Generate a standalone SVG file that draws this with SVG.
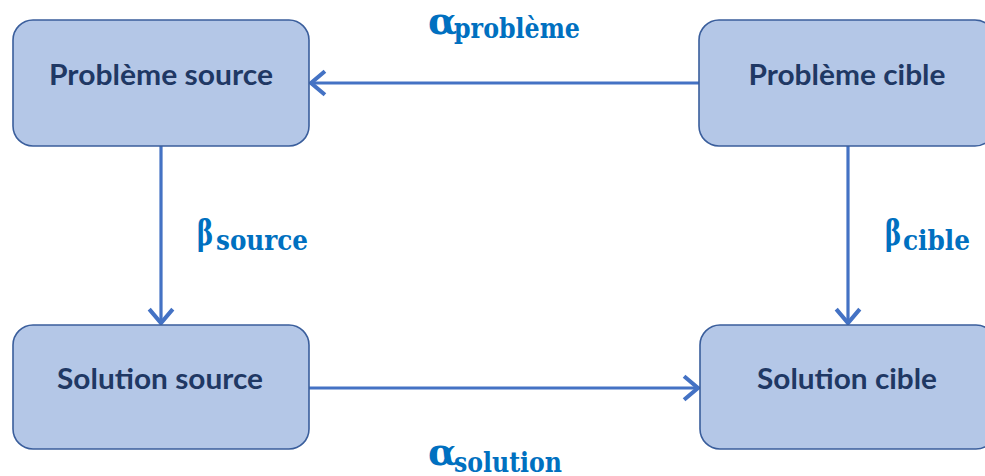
<svg xmlns="http://www.w3.org/2000/svg" width="985" height="476" viewBox="0 0 985 476">
<defs>
<style>
.box{fill:#B4C7E7;stroke:#3A5E9C;stroke-width:1.6}
.lbl{font-family:Lato,"Open Sans","Liberation Sans",sans-serif;font-weight:bold;font-size:28px;fill:#1F3864;text-anchor:middle}
.edge{stroke:#4472C4;stroke-width:3.2;fill:none}
.math{font-family:"DejaVu Serif","Liberation Serif",serif;font-weight:bold;fill:#0070C0}
.g{font-size:38px}
.b{font-size:35px}
.s{font-size:27px}
</style>
<marker id="ah" markerUnits="userSpaceOnUse" markerWidth="30" markerHeight="30" viewBox="-16 -14 20 28" refX="0" refY="0" orient="auto">
<path d="M-13,-11 L0,0 L-13,11" fill="none" stroke="#4472C4" stroke-width="3.8" stroke-linejoin="miter"/>
</marker>
</defs>
<rect width="985" height="476" fill="#FFFFFF"/>
<g id="connectors">
<line class="edge" x1="699" y1="83" x2="311" y2="83" marker-end="url(#ah)"/>
<line class="edge" x1="161" y1="146" x2="161" y2="323" marker-end="url(#ah)"/>
<line class="edge" x1="848" y1="146" x2="848" y2="323" marker-end="url(#ah)"/>
<line class="edge" x1="309" y1="388" x2="698" y2="388" marker-end="url(#ah)"/>
</g>
<g id="n-probleme-source">
<rect class="box" x="13" y="20" width="296" height="126" rx="20"/>
<text class="lbl" x="161" y="85" textLength="224" lengthAdjust="spacingAndGlyphs">Problème source</text>
</g>
<g id="n-probleme-cible">
<rect class="box" x="699" y="20" width="296" height="126" rx="20"/>
<text class="lbl" x="847" y="85" textLength="197" lengthAdjust="spacingAndGlyphs">Problème cible</text>
</g>
<g id="n-solution-source">
<rect class="box" x="13" y="325" width="296" height="124" rx="20"/>
<text class="lbl" x="160" y="389" textLength="206" lengthAdjust="spacingAndGlyphs">Solution source</text>
</g>
<g id="n-solution-cible">
<rect class="box" x="700" y="325" width="296" height="124" rx="20"/>
<text class="lbl" x="847" y="389" textLength="180" lengthAdjust="spacingAndGlyphs">Solution cible</text>
</g>
<g id="labels">
<text class="math g" x="428" y="34">α</text>
<text class="math s" x="454" y="38" textLength="126" lengthAdjust="spacingAndGlyphs">problème</text>
<text class="math g" x="428" y="465">α</text>
<text class="math s" x="454" y="472" textLength="108" lengthAdjust="spacingAndGlyphs">solution</text>
<text class="math b" transform="translate(197,245) scale(0.7,1)">β</text>
<text class="math s" x="216" y="250" textLength="92" lengthAdjust="spacingAndGlyphs">source</text>
<text class="math b" transform="translate(885,245) scale(0.7,1)">β</text>
<text class="math s" x="903" y="250" textLength="67" lengthAdjust="spacingAndGlyphs">cible</text>
</g>
</svg>
